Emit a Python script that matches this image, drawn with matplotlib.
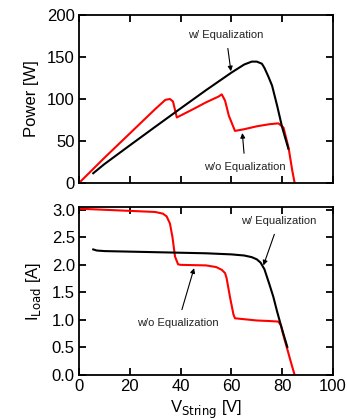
import matplotlib
matplotlib.use("Agg")
import matplotlib.pyplot as plt

plt.rcParams['font.family'] = ['Liberation Sans', 'DejaVu Sans']

# Power vs string voltage
v_p_eq = [5.6, 10, 20, 30, 40, 50, 60, 65, 68, 70, 72, 73, 74.5, 76, 78, 80, 82.4]
p_eq = [11.6, 22.5, 44.8, 66.9, 88.8, 110.5, 131.4, 141, 144.5, 144.5, 142, 137, 127, 116, 92, 66, 41]
v_p_noeq = [0, 10, 20, 30, 34, 35.8, 37, 38.5, 45, 50, 55, 56.2, 57.5, 59, 61.4, 65, 70, 75, 78.5, 80.5, 82.5, 84, 84.9]
p_noeq = [0, 30, 59, 88, 99, 100, 97, 78, 88, 96, 103, 105.5, 98, 80, 62, 64, 67.5, 70, 71, 66, 42, 14, 0]

# Load current vs string voltage
v_i_eq = [5.6, 7, 10, 20, 30, 40, 50, 60, 65, 68, 70, 71.5, 73, 75, 76.5, 78, 80, 82]
i_eq = [2.28, 2.26, 2.25, 2.24, 2.23, 2.22, 2.21, 2.19, 2.17, 2.14, 2.10, 2.04, 1.92, 1.64, 1.42, 1.15, 0.82, 0.51]
v_i_noeq = [0, 10, 20, 30, 33, 34.5, 35.8, 36.8, 37.8, 39, 40, 50, 54, 56.2, 57.5, 58.1, 59.5, 60.8, 61.4, 70, 75, 78.5, 79.5, 80.4, 82, 83.5, 84.9]
i_noeq = [3.02, 3.0, 2.98, 2.96, 2.93, 2.88, 2.75, 2.5, 2.15, 2.01, 2.0, 1.99, 1.96, 1.91, 1.85, 1.76, 1.4, 1.1, 1.03, 0.99, 0.98, 0.97, 0.9, 0.73, 0.47, 0.22, 0.0]

x_ticks = [0, 20, 40, 60, 80, 100]
p_ticks = [0, 50, 100, 150, 200]
i_ticks = [0.0, 0.5, 1.0, 1.5, 2.0, 2.5, 3.0]

fig = plt.figure(figsize=(3.47, 4.20), dpi=100)
ax1 = fig.add_axes([0.2277, 0.5643, 0.732, 0.400])
ax2 = fig.add_axes([0.2277, 0.1071, 0.732, 0.400])

arrow = dict(arrowstyle='-|>', color='black', lw=0.8, mutation_scale=7, shrinkA=4, shrinkB=0)

for ax in (ax1, ax2):
    ax.tick_params(direction='in', length=5, width=1.3, top=True, right=True, labelsize=12, pad=3)
    for s in ax.spines.values():
        s.set_linewidth(1.3)
    ax.set_xlim(0, 100)
    ax.set_xticks(x_ticks)

ax1.plot(v_p_noeq, p_noeq, color='red', lw=1.5)
ax1.plot(v_p_eq, p_eq, color='black', lw=1.5)
ax1.set_ylim(0, 200)
ax1.set_yticks(p_ticks)
ax1.set_xticklabels([])
ax1.set_ylabel('Power [W]', fontsize=12, labelpad=6)
ax1.annotate('w/ Equalization', xy=(59.8, 133), xytext=(57.9, 176), fontsize=8,
             ha='center', va='center', color='#222222', arrowprops=arrow)
ax1.annotate('w/o Equalization', xy=(64.3, 59.5), xytext=(65.4, 19.5), fontsize=8,
             ha='center', va='center', color='#222222', arrowprops=arrow)

ax2.plot(v_i_noeq, i_noeq, color='red', lw=1.5)
ax2.plot(v_i_eq, i_eq, color='black', lw=1.5)
ax2.set_ylim(0, 3.05)
ax2.set_yticks(i_ticks)
ax2.set_yticklabels(['%.1f' % t for t in i_ticks])
ax2.set_ylabel(r'I$_{\mathrm{Load}}$ [A]', fontsize=12, labelpad=6)
ax2.set_xlabel(r'V$_{\mathrm{String}}$ [V]', fontsize=12, labelpad=3)
ax2.annotate('w/ Equalization', xy=(72.6, 1.99), xytext=(78.7, 2.79), fontsize=8,
             ha='center', va='center', color='#222222', arrowprops=arrow)
ax2.annotate('w/o Equalization', xy=(45.3, 1.94), xytext=(39, 0.95), fontsize=8,
             ha='center', va='center', color='#222222', arrowprops=arrow)

fig.savefig('out.png', dpi=100)
